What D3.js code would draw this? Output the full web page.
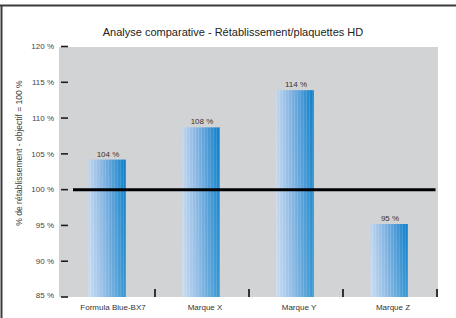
<!DOCTYPE html>
<html>
<head>
<meta charset="utf-8">
<script src="https://cdn.jsdelivr.net/npm/d3@7"></script>
<style>
  html, body { margin: 0; padding: 0; background: #fff; }
  svg { display: block; font-family: "Liberation Sans", Arial, sans-serif; }
</style>
</head>
<body>
<svg id="chart" width="456" height="318"></svg>
<script>
// data
const categories = ["Formula Blue-BX7", "Marque X", "Marque Y", "Marque Z"];
const values = [104.2, 108.7, 113.9, 95.2];
const valueLabels = ["104 %", "108 %", "114 %", "95 %"];
const yTicks = [85, 90, 95, 100, 105, 110, 115, 120];
const target = 100;

const title = "Analyse comparative - Rétablissement/plaquettes HD";
const yTitle = "% de rétablissement - objectif = 100 %";

const svg = d3.select("#chart");

// plot box
const plot = { left: 59, right: 438, top: 47, bottom: 297 };

const x = d3.scaleBand()
  .domain(categories)
  .range([61, 437])
  .paddingInner(0.6)
  .paddingOuter(0.3);

const y = d3.scaleLinear()
  .domain([85, 120])
  .range([297, 46.5]);

// gradients for the bars
const defs = svg.append("defs");
const grad = defs.append("linearGradient")
  .attr("id", "barGrad")
  .attr("x1", "0%").attr("x2", "100%").attr("y1", "0%").attr("y2", "0%");
grad.append("stop").attr("offset", "0%").attr("stop-color", "#c2d6ef");
grad.append("stop").attr("offset", "45%").attr("stop-color", "#78aee0");
grad.append("stop").attr("offset", "100%").attr("stop-color", "#0a7ec8");

const fade = defs.append("linearGradient")
  .attr("id", "fadeGrad")
  .attr("x1", "0%").attr("x2", "0%").attr("y1", "0%").attr("y2", "100%");
fade.append("stop").attr("offset", "0%").attr("stop-color", "#fff").attr("stop-opacity", 0);
fade.append("stop").attr("offset", "100%").attr("stop-color", "#fff").attr("stop-opacity", 0.18);

// thin vertical streaks
const pat = defs.append("pattern")
  .attr("id", "streaks")
  .attr("patternUnits", "userSpaceOnUse")
  .attr("width", 3).attr("height", 10);
pat.append("rect").attr("x", 0).attr("y", 0).attr("width", 1).attr("height", 10)
  .attr("fill", "#fff").attr("opacity", 0.12);

// frame (top and left only)
svg.append("line")
  .attr("x1", 0).attr("x2", 456).attr("y1", 5.5).attr("y2", 5.5)
  .attr("stroke", "#3c3c3c").attr("stroke-width", 2);
svg.append("line")
  .attr("x1", 1.5).attr("x2", 1.5).attr("y1", 5).attr("y2", 318)
  .attr("stroke", "#3c3c3c").attr("stroke-width", 2);

// title
svg.append("text")
  .attr("x", 233).attr("y", 36)
  .attr("text-anchor", "middle")
  .attr("font-size", 11)
  .attr("fill", "#222")
  .text(title);

// grey plot background
svg.append("rect")
  .attr("x", plot.left).attr("y", plot.top)
  .attr("width", plot.right - plot.left)
  .attr("height", plot.bottom - plot.top)
  .attr("fill", "#d2d3d5");

// y axis: labels left of box, short dashes inside
const yAxis = svg.append("g").attr("class", "y-axis");
yAxis.selectAll("line")
  .data(yTicks)
  .join("line")
  .attr("x1", 61).attr("x2", 68)
  .attr("y1", d => y(d)).attr("y2", d => y(d))
  .attr("stroke", "#1e1e1e").attr("stroke-width", 1.6);
yAxis.selectAll("text")
  .data(yTicks)
  .join("text")
  .attr("x", 54)
  .attr("y", d => Math.min(y(d), 295))
  .attr("dy", "0.35em")
  .attr("text-anchor", "end")
  .attr("font-size", 8)
  .attr("fill", "#444")
  .text(d => d + " %");

svg.append("text")
  .attr("transform", "translate(22,153) rotate(-90)")
  .attr("text-anchor", "middle")
  .attr("font-size", 8.5)
  .attr("fill", "#444")
  .text(yTitle);

// bars
const bars = svg.append("g").attr("class", "bars");
const barData = categories.map((c, i) => ({ cat: c, v: values[i], label: valueLabels[i] }));

["url(#barGrad)", "url(#streaks)", "url(#fadeGrad)"].forEach((fill, k) => {
  bars.selectAll("rect.layer" + k)
    .data(barData)
    .join("rect")
    .attr("class", "layer" + k)
    .attr("x", d => x(d.cat) - 1)
    .attr("y", d => y(d.v))
    .attr("width", x.bandwidth())
    .attr("height", d => y(85) - y(d.v))
    .attr("fill", fill);
});

bars.selectAll("text")
  .data(barData)
  .join("text")
  .attr("x", d => x(d.cat) + x.bandwidth() / 2)
  .attr("y", d => y(d.v) - 3)
  .attr("text-anchor", "middle")
  .attr("font-size", 8)
  .attr("fill", "#333")
  .text(d => d.label);

// x axis ticks at band boundaries
const boundary = d => x(d) + x.bandwidth() + x.step() * x.paddingInner() / 2;
svg.append("g").selectAll("line")
  .data(categories)
  .join("line")
  .attr("x1", boundary)
  .attr("x2", boundary)
  .attr("y1", 289).attr("y2", 297)
  .attr("stroke", "#333").attr("stroke-width", 2);

svg.append("g").selectAll("text")
  .data(categories)
  .join("text")
  .attr("x", (d, i) => x(d) + x.bandwidth() / 2 + (i === 0 ? 5 : 3))
  .attr("y", 310)
  .attr("text-anchor", "middle")
  .attr("font-size", 8)
  .attr("fill", "#333")
  .text(d => d);

// target line at 100 %
svg.append("line")
  .attr("x1", 73).attr("x2", 435.5)
  .attr("y1", y(target)).attr("y2", y(target))
  .attr("stroke", "#000").attr("stroke-width", 3);
</script>
</body>
</html>
